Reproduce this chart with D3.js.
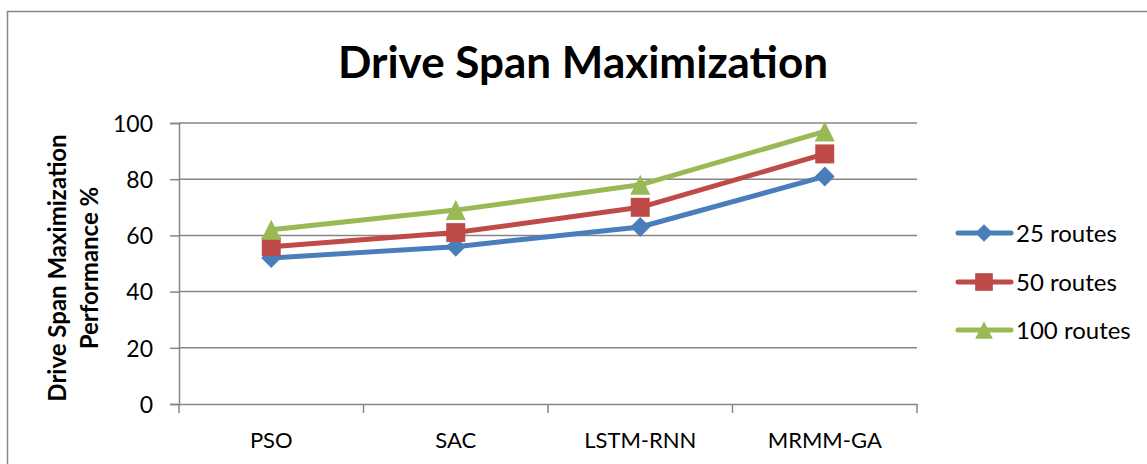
<!DOCTYPE html>
<html><head><meta charset="utf-8">
<script src="https://cdn.jsdelivr.net/npm/d3@7"></script>
<style>body{margin:0;background:#fff}svg{display:block}</style>
</head><body>
<script>
const categories = ["PSO", "SAC", "LSTM-RNN", "MRMM-GA"];
const seriesNames = ["25 routes", "50 routes", "100 routes"];
const routes25 = [52, 56, 63, 81];
const routes50 = [56, 61, 70, 89];
const routes100 = [62, 69, 78, 97];
const yTicks = [0, 20, 40, 60, 80, 100];
const colors = ["#4A7EBB", "#BE4B48", "#98B954"];

// custom marker shapes (size = half-extent squared)
const diamond = { draw(ctx, size) { const r = Math.sqrt(size); ctx.moveTo(0, -r); ctx.lineTo(r, 0); ctx.lineTo(0, r); ctx.lineTo(-r, 0); ctx.closePath(); } };
const square = { draw(ctx, size) { const r = Math.sqrt(size); ctx.rect(-r, -r, 2 * r, 2 * r); } };
const triangle = { draw(ctx, size) { const r = Math.sqrt(size); ctx.moveTo(0, -r); ctx.lineTo(r, r); ctx.lineTo(-r, r); ctx.closePath(); } };
const symbols = [diamond, square, triangle];

const W = 1147, H = 464;
const font = "Lato, 'Open Sans', sans-serif";
const svg = d3.select("body").append("svg").attr("width", W).attr("height", H);

svg.append("rect").attr("x", 7.5).attr("y", 11.5).attr("width", 1160).attr("height", 480)
  .attr("fill", "#fff").attr("stroke", "#868686").attr("stroke-width", 1.5);

const x = d3.scaleBand().domain(categories).range([179, 917]);
const y = d3.scaleLinear().domain([0, 100]).range([404, 123]);

// gridlines
svg.append("g").selectAll("line").data(yTicks.filter(d => d > 0)).join("line")
  .attr("x1", 179).attr("x2", 917).attr("y1", d => y(d)).attr("y2", d => y(d))
  .attr("stroke", "#868686").attr("stroke-width", 1.5);

// y axis
const yAx = svg.append("g").attr("transform", "translate(179,0)")
  .call(d3.axisLeft(y).tickValues(yTicks).tickSize(9).tickPadding(17));
yAx.select(".domain").attr("stroke", "#868686").attr("stroke-width", 1.5);
yAx.selectAll(".tick line").attr("stroke", "#868686").attr("stroke-width", 1.5);
yAx.selectAll("text").attr("font-family", font).attr("font-size", 23).attr("fill", "#000").attr("dy", "0.36em");

// x axis
const xAx = svg.append("g").attr("transform", "translate(0,404)")
  .call(d3.axisBottom(x).tickSize(0).tickPadding(0));
xAx.select(".domain").attr("stroke", "#868686").attr("stroke-width", 1.5);
xAx.selectAll("text").attr("font-family", font).attr("font-size", 22).attr("fill", "#000")
  .attr("y", 44).attr("dy", 0);
const bounds = categories.map(c => x(c)).concat([x(categories[categories.length-1]) + x.bandwidth()]);
xAx.selectAll(".sep").data(bounds).join("line").attr("class", "sep")
  .attr("x1", d => d).attr("x2", d => d).attr("y1", 0).attr("y2", 9)
  .attr("stroke", "#868686").attr("stroke-width", 1.5);

// series
const data = [routes25, routes50, routes100];
const line = d3.line().x((d, i) => x(categories[i]) + x.bandwidth() / 2).y(d => y(d));
data.forEach((vals, s) => {
  svg.append("path").datum(vals).attr("d", line).attr("fill", "none")
    .attr("stroke", colors[s]).attr("stroke-width", 5).attr("stroke-linejoin", "round");
  svg.append("g").selectAll("path").data(vals).join("path")
    .attr("d", d3.symbol().type(symbols[s]).size(s === 1 ? 90 : 100))
    .attr("transform", (d, i) => `translate(${x(categories[i]) + x.bandwidth() / 2},${y(d)})`)
    .attr("fill", colors[s]);
});

// title
svg.append("text").attr("x", 583).attr("y", 78).attr("text-anchor", "middle")
  .attr("font-family", font).attr("font-weight", "bold").attr("font-size", 44)
  .text("Drive Span Maximization");

// y title
const yt = svg.append("text").attr("transform", "translate(0,268) rotate(-90)")
  .attr("text-anchor", "middle").attr("font-family", font).attr("font-weight", "bold").attr("font-size", 24);
yt.append("tspan").attr("x", 0).attr("y", 66).text("Drive Span Maximization");
yt.append("tspan").attr("x", 0).attr("y", 98).text("Performance %");

// legend
const legY = [233, 282, 330];
seriesNames.forEach((n, s) => {
  const g = svg.append("g").attr("transform", `translate(0,${legY[s]})`);
  g.append("line").attr("x1", 958).attr("x2", 1011).attr("y1", 0).attr("y2", 0)
    .attr("stroke", colors[s]).attr("stroke-width", 5).attr("stroke-linecap", "round");
  g.append("path").attr("d", d3.symbol().type(symbols[s]).size(s === 1 ? 78 : 78))
    .attr("transform", "translate(984,0)").attr("fill", colors[s]);
  g.append("text").attr("x", 1016).attr("y", 9).attr("font-family", font).attr("font-size", 24).text(n);
});
</script>
</body></html>
